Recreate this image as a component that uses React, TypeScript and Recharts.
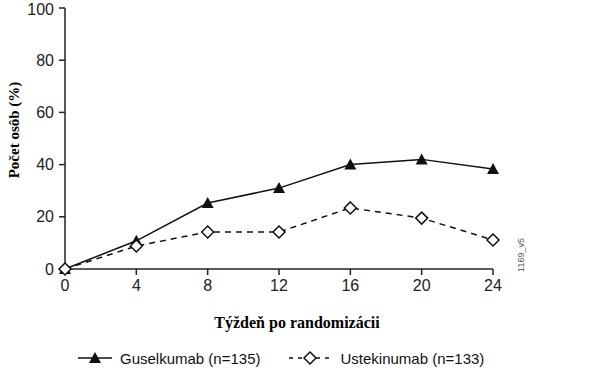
import { Line, LineChart, XAxis, YAxis } from "recharts";

const weeks = [0, 4, 8, 12, 16, 20, 24];
const guselkumab = [0, 10.8, 25.3, 31, 40, 42, 38.3];
const ustekinumab = [0, 8.8, 14.2, 14.2, 23.4, 19.5, 11.1];
const xTicks = [0, 4, 8, 12, 16, 20, 24];
const yTicks = [0, 20, 40, 60, 80, 100];

const rows = weeks.map((week, i) => ({ week, gus: guselkumab[i], ust: ustekinumab[i] }));

const AX = "#222";
const tickStyle = { fontSize: 16, fill: "#222", fontFamily: "Liberation Sans, Arial, sans-serif" };

const Triangle = (props: any) => {
  const { cx, cy } = props;
  if (cx == null || cy == null) return null;
  return <path d={`M${cx},${cy - 6} L${cx + 6},${cy + 5} L${cx - 6},${cy + 5} Z`} fill="#111" />;
};

const Diamond = (props: any) => {
  const { cx, cy } = props;
  if (cx == null || cy == null) return null;
  return (
    <path
      d={`M${cx},${cy - 6} L${cx + 6},${cy} L${cx},${cy + 6} L${cx - 6},${cy} Z`}
      fill="#fff"
      stroke="#111"
      strokeWidth={1.5}
    />
  );
};

export default function App() {
  return (
    <div style={{ position: "absolute", top: 0, left: 0, width: 597, height: 390, background: "#fff" }}>
      <LineChart width={597} height={390} data={rows} margin={{ top: 8, right: 104, bottom: 91, left: 5 }}>
        <XAxis
          dataKey="week"
          type="number"
          domain={[0, 24]}
          ticks={xTicks}
          height={30}
          tick={tickStyle}
          tickSize={6}
          tickMargin={5}
          axisLine={{ stroke: AX, strokeWidth: 1.5 }}
          tickLine={{ stroke: AX, strokeWidth: 1.5 }}
        />
        <YAxis
          type="number"
          domain={[0, 100]}
          ticks={yTicks}
          width={60}
          tick={tickStyle}
          tickSize={6}
          tickMargin={5}
          axisLine={{ stroke: AX, strokeWidth: 1.5 }}
          tickLine={{ stroke: AX, strokeWidth: 1.5 }}
        />
        <Line
          dataKey="gus"
          stroke="#111"
          strokeWidth={1.5}
          dot={<Triangle />}
          isAnimationActive={false}
        />
        <Line
          dataKey="ust"
          stroke="#111"
          strokeWidth={1.5}
          strokeDasharray="6 5"
          dot={<Diamond />}
          isAnimationActive={false}
        />
      </LineChart>

      <div
        style={{
          position: "absolute",
          left: 14,
          top: 130,
          transform: "translate(-50%, -50%) rotate(-90deg)",
          whiteSpace: "nowrap",
          fontFamily: "Liberation Serif, Times New Roman, serif",
          fontWeight: "bold",
          fontSize: 15,
        }}
      >
        Počet osôb (%)
      </div>
      <div
        style={{
          position: "absolute",
          left: 521,
          top: 255,
          transform: "translate(-50%, -50%) rotate(-90deg)",
          whiteSpace: "nowrap",
          fontFamily: "Liberation Sans, Arial, sans-serif",
          fontSize: 9,
          color: "#555",
        }}
      >
        1169_v5
      </div>
      <div
        style={{
          position: "absolute",
          left: 297,
          top: 323,
          transform: "translate(-50%, -50%)",
          whiteSpace: "nowrap",
          fontFamily: "Liberation Serif, Times New Roman, serif",
          fontWeight: "bold",
          fontSize: 16,
        }}
      >
        Týždeň po randomizácii
      </div>

      <div
        style={{
          position: "absolute",
          left: 78,
          top: 349,
          display: "flex",
          alignItems: "center",
          fontFamily: "Liberation Sans, Arial, sans-serif",
          fontSize: 15,
          color: "#111",
        }}
      >
        <svg width={34} height={18}>
          <line x1={0} y1={9} x2={34} y2={9} stroke="#111" strokeWidth={1.5} />
          <Triangle cx={17} cy={9} />
        </svg>
        <span style={{ marginLeft: 8 }}>Guselkumab (n=135)</span>
        <svg width={42} height={18} style={{ marginLeft: 28 }}>
          <line x1={0} y1={9} x2={42} y2={9} stroke="#111" strokeWidth={1.5} strokeDasharray="4 5" />
          <Diamond cx={21} cy={9} />
        </svg>
        <span style={{ marginLeft: 10 }}>Ustekinumab (n=133)</span>
      </div>
    </div>
  );
}
